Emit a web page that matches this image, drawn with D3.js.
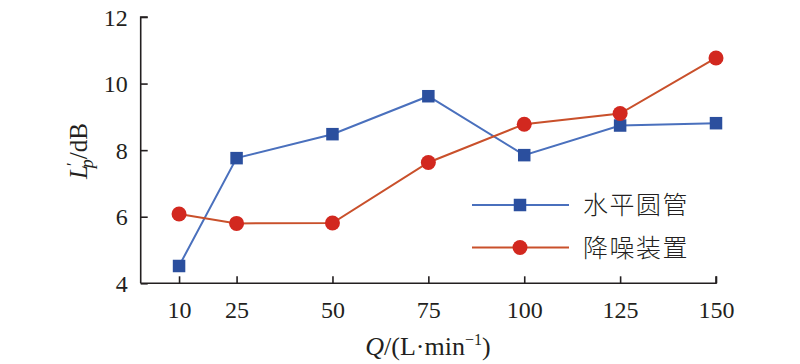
<!DOCTYPE html>
<html><head><meta charset="utf-8">
<script src="https://cdn.jsdelivr.net/npm/d3@7"></script>
<style>body{margin:0;background:#fff}svg{display:block}</style>
</head><body><svg id="c" width="800" height="364"></svg>
<script>
const flows = [10, 25, 50, 75, 100, 125, 150];
const pipe = [4.52, 7.76, 8.48, 9.62, 7.85, 8.74, 8.81];
const device = [6.08, 5.80, 5.81, 7.63, 8.78, 9.10, 10.77];
const seriesNames = ["水平圆管", "降噪装置"];
const yTicks = [4, 6, 8, 10, 12];

const serif = "'Liberation Serif', 'Times New Roman', serif";
const svg = d3.select("#c");
const x = d3.scaleLinear().domain([0, 150]).range([140.7, 716]);
const y = d3.scaleLinear().domain([4, 12]).range([283.3, 17]);
const axisColor = "#231f20";

// axes
const gx = svg.append("g").attr("transform", "translate(0,283.3)")
  .call(d3.axisBottom(x).tickValues(flows).tickSize(-7).tickPadding(0).tickFormat(d3.format("d")));
gx.attr("font-family", null).attr("font-size", null);
gx.select(".domain").attr("d", `M${x(0)},0H${x(150)}V-7`).attr("stroke", axisColor).attr("stroke-width", 1.6);
gx.selectAll(".tick line").attr("stroke", axisColor).attr("stroke-width", 1.6);
gx.selectAll(".tick text").attr("y", 35).attr("dy", 0).style("font-family", serif).style("font-size", "24px").attr("fill", axisColor);

const gy = svg.append("g").attr("transform", "translate(140.7,0)")
  .call(d3.axisLeft(y).tickValues(yTicks).tickSize(-7).tickPadding(0).tickFormat(d3.format("d")));
gy.attr("font-family", null).attr("font-size", null);
gy.select(".domain").attr("d", `M7,${y(12)}H0V${y(4)}`).attr("stroke", axisColor).attr("stroke-width", 1.6);
gy.selectAll(".tick line").attr("stroke", axisColor).attr("stroke-width", 1.6);
gy.selectAll(".tick text").attr("x", -13).attr("dy", "0.34em").style("font-family", serif).style("font-size", "24px").attr("fill", axisColor);

// axis titles
const xt = svg.append("text").attr("x", 428).attr("y", 355).attr("text-anchor", "middle")
  .style("font-family", serif).style("font-size", "26px").attr("fill", axisColor);
xt.append("tspan").attr("font-style", "italic").text("Q");
xt.append("tspan").text("/(L·min");
xt.append("tspan").attr("dy", -10).style("font-size", "16px").text("−1");
xt.append("tspan").attr("dy", 10).text(")");

const yt = svg.append("text").attr("transform", "translate(87,151) rotate(-90)").attr("text-anchor", "middle")
  .style("font-family", serif).style("font-size", "25px").attr("fill", axisColor);
yt.append("tspan").attr("font-style", "italic").text("L");
yt.append("tspan").attr("dy", -9).attr("dx", -1).style("font-size", "17px").text("′");
yt.append("tspan").attr("dy", 15).attr("dx", -6).attr("font-style", "italic").style("font-size", "18px").text("p");
yt.append("tspan").attr("dy", -6).text("/dB");

const blueLine = "#4a70bd", blueMark = "#2b4f9e";
const redLine = "#c9502b", redMark = "#d2281f";
const line = d3.line().x((d, i) => x(flows[i])).y(d => y(d));

svg.append("path").datum(pipe).attr("d", line).attr("fill", "none").attr("stroke", blueLine).attr("stroke-width", 2);
svg.append("path").datum(device).attr("d", line).attr("fill", "none").attr("stroke", redLine).attr("stroke-width", 2);

const sq = 12.5, r = 7.5;
svg.selectAll(".sq").data(pipe).enter().append("rect")
  .attr("x", (d, i) => x(flows[i]) - sq / 2).attr("y", d => y(d) - sq / 2)
  .attr("width", sq).attr("height", sq).attr("fill", blueMark);
svg.selectAll(".ci").data(device).enter().append("circle")
  .attr("cx", (d, i) => x(flows[i])).attr("cy", d => y(d)).attr("r", r).attr("fill", redMark);

// legend
const leg = [{ y: 205, c: blueLine, m: blueMark, t: "sq" }, { y: 247.5, c: redLine, m: redMark, t: "ci" }];
leg.forEach((l, i) => {
  svg.append("line").attr("x1", 472).attr("x2", 569).attr("y1", l.y).attr("y2", l.y).attr("stroke", l.c).attr("stroke-width", 2);
  if (l.t === "sq") svg.append("rect").attr("x", 520 - sq / 2).attr("y", l.y - sq / 2).attr("width", sq).attr("height", sq).attr("fill", l.m);
  else svg.append("circle").attr("cx", 520).attr("cy", l.y).attr("r", r).attr("fill", l.m);
  svg.append("text").attr("x", 583).attr("y", l.y).attr("dy", "0.36em").attr("fill", axisColor)
    .style("font-family", "'Noto Sans CJK SC'").style("font-size", "25px").style("font-weight", 300)
    .style("letter-spacing", "1.5px").text(seriesNames[i]);
});
</script></body></html>
